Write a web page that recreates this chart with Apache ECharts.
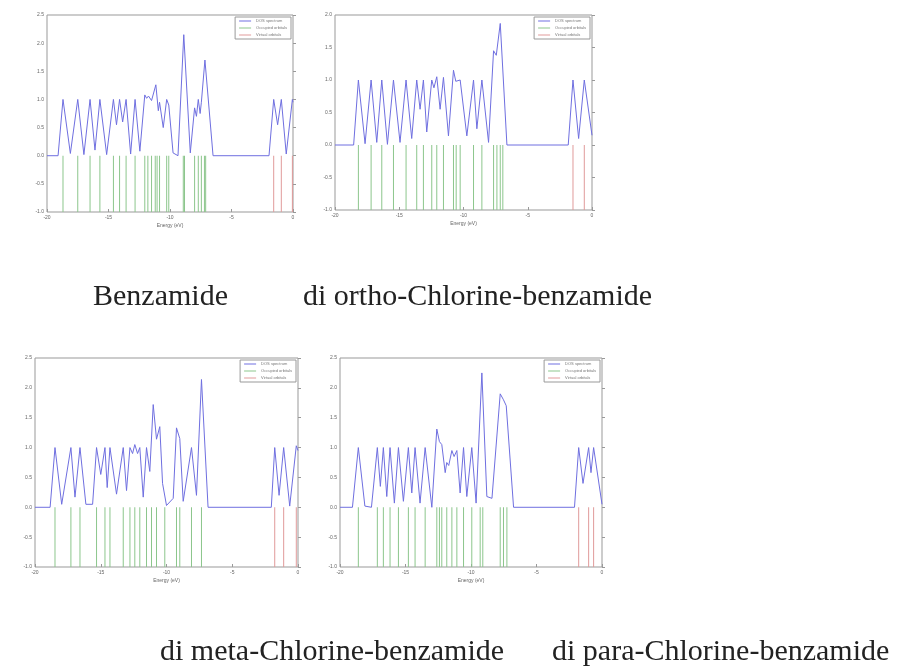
<!DOCTYPE html>
<html lang="en">
<head>
    <meta charset="UTF-8">
    <title>DOS spectra</title>
    <script type="text/javascript" src="https://cdn.jsdelivr.net/npm/echarts@6/dist/echarts.min.js"></script>
    <style>html, body { margin: 0; background: #fff; }</style>
</head>
<body>
    <div id="main" style="width: 901px;height:667px;"></div>
    <script type="text/javascript">

        // 轨道能量 (eV)
        var benzOcc = [-18.7, -17.5, -16.5, -15.7, -14.6, -14.1, -13.57, -12.84, -12.05, -11.8, -11.5, -11.2, -11.05, -10.85, -10.27, -10.1, -8.92, -8.82, -8.0, -7.7, -7.45, -7.2, -7.1];
        var benzVirt = [-1.57, -0.95, -0.05];
        var orthoOcc = [-18.18, -17.19, -16.36, -15.45, -14.47, -13.64, -13.12, -12.47, -12.08, -11.56, -10.78, -10.57, -10.26, -9.22, -8.57, -7.66, -7.40, -7.14, -6.94];
        var orthoVirt = [-1.48, -0.60];
        var metaOcc = [-18.48, -17.27, -16.58, -15.32, -14.68, -14.30, -13.29, -12.78, -12.41, -12.03, -11.52, -11.14, -10.76, -10.13, -9.24, -8.99, -8.10, -7.34];
        var metaVirt = [-1.77, -1.09, -0.13];
        var paraOcc = [-18.60, -17.15, -16.69, -16.18, -15.54, -14.78, -14.27, -13.50, -12.61, -12.41, -12.23, -11.85, -11.46, -11.08, -10.57, -9.94, -9.30, -9.10, -7.77, -7.52, -7.26];
        var paraVirt = [-1.78, -1.02, -0.64];

        // DOS 曲线 [能量, 强度]
        var benzDos = [[-20, 0], [-19.1, 0], [-18.7, 1.0], [-18.1, 0.04], [-17.5, 1.0], [-17.0, 0.02], [-16.5, 1.0], [-16.1, 0.1], [-15.7, 1.0], [-15.15, 0.02], [-14.6, 1.0], [-14.35, 0.55], [-14.1, 1.0], [-13.85, 0.6], [-13.57, 1.0], [-13.2, 0.03], [-12.84, 1.0], [-12.45, 0.08], [-12.05, 1.08], [-11.9, 1.02], [-11.75, 1.06], [-11.5, 0.98], [-11.15, 1.26], [-10.95, 0.8], [-10.85, 0.95], [-10.55, 0.5], [-10.27, 1.0], [-10.1, 0.9], [-9.75, 0.05], [-9.35, 0], [-8.88, 2.15], [-8.35, 0.05], [-8.0, 0.85], [-7.85, 0.7], [-7.7, 1.0], [-7.55, 0.75], [-7.45, 0.95], [-7.16, 1.7], [-6.5, 0], [-1.95, 0], [-1.57, 1.0], [-1.25, 0.55], [-0.95, 1.0], [-0.55, 0.03], [-0.05, 1.0], [0, 0.95]];
        var orthoDos = [[-20, 0], [-18.55, 0], [-18.18, 1.0], [-17.66, 0.02], [-17.19, 1.0], [-16.75, 0.04], [-16.36, 1.0], [-15.92, 0.01], [-15.45, 1.0], [-14.94, 0.04], [-14.47, 1.0], [-14.03, 0.1], [-13.64, 1.0], [-13.38, 0.55], [-13.12, 1.0], [-12.86, 0.2], [-12.47, 1.0], [-12.3, 0.88], [-12.08, 1.05], [-11.82, 0.55], [-11.56, 1.04], [-11.17, 0.14], [-10.78, 1.15], [-10.6, 0.98], [-10.26, 1.0], [-9.74, 0.14], [-9.22, 1.0], [-8.96, 0.25], [-8.57, 1.0], [-8.05, 0.04], [-7.66, 1.45], [-7.45, 1.38], [-7.14, 1.87], [-6.62, 0], [-1.85, 0], [-1.48, 1.0], [-1.04, 0.1], [-0.6, 1.0], [0, 0.15]];
        var metaDos = [[-20, 0], [-18.85, 0], [-18.48, 1.0], [-17.97, 0.05], [-17.27, 1.0], [-16.96, 0.17], [-16.58, 1.0], [-16.13, 0.05], [-15.62, 0.05], [-15.32, 1.0], [-15.0, 0.55], [-14.68, 1.0], [-14.51, 0.33], [-14.3, 1.0], [-13.8, 0.22], [-13.29, 1.0], [-13.04, 0.28], [-12.78, 1.0], [-12.58, 0.9], [-12.41, 1.05], [-12.2, 0.9], [-12.03, 1.0], [-11.77, 0.17], [-11.52, 1.0], [-11.27, 0.6], [-11.01, 1.72], [-10.76, 1.14], [-10.51, 1.35], [-10.3, 0.4], [-10.0, 0.03], [-9.49, 0.15], [-9.24, 1.33], [-8.99, 1.15], [-8.73, 0.1], [-8.1, 1.0], [-7.72, 0.2], [-7.34, 2.14], [-6.84, 0], [-2.03, 0], [-1.77, 1.0], [-1.44, 0.2], [-1.09, 1.0], [-0.63, 0.02], [-0.13, 1.03], [0, 0.95]];
        var paraDos = [[-20, 0], [-19.05, 0], [-18.6, 1.0], [-18.1, 0.02], [-17.6, 0], [-17.15, 1.0], [-16.92, 0.35], [-16.69, 1.0], [-16.43, 0.18], [-16.18, 1.0], [-15.85, 0.07], [-15.54, 1.0], [-15.16, 0.1], [-14.78, 1.0], [-14.52, 0.24], [-14.27, 1.0], [-13.89, 0.07], [-13.5, 1.0], [-12.99, 0], [-12.61, 1.31], [-12.41, 1.1], [-12.23, 1.05], [-11.97, 0.58], [-11.85, 0.75], [-11.7, 0.7], [-11.46, 0.95], [-11.29, 0.85], [-11.08, 0.95], [-10.83, 0.24], [-10.57, 1.0], [-10.32, 0.18], [-9.94, 1.0], [-9.61, 0.07], [-9.17, 2.25], [-8.79, 0.18], [-8.4, 0.15], [-7.77, 1.9], [-7.52, 1.8], [-7.31, 1.7], [-6.75, 0], [-2.1, 0], [-1.78, 1.0], [-1.45, 0.4], [-1.02, 1.0], [-0.84, 0.58], [-0.64, 1.0], [0, 0.05]];

        var seriesNames = ['DOS spectrum', 'Occupied orbitals', 'Virtual orbitals'];
        var captions = ['Benzamide', 'di ortho-Chlorine-benzamide', 'di meta-Chlorine-benzamide', 'di para-Chlorine-benzamide'];
        var xMin = -20, xMax = 0, xStep = 5;
        var yMin = -1, yStep = 0.5;
        var yMaxes = [2.5, 2.0, 2.5, 2.5];

        var panels = [
            {dos: benzDos, occ: benzOcc, virt: benzVirt, box: [47, 15, 246, 197], cap: [93, 282]},
            {dos: orthoDos, occ: orthoOcc, virt: orthoVirt, box: [335, 15, 257, 195], cap: [303, 282]},
            {dos: metaDos, occ: metaOcc, virt: metaVirt, box: [35, 358, 263, 209], cap: [160, 637]},
            {dos: paraDos, occ: paraOcc, virt: paraVirt, box: [340, 358, 262, 209], cap: [552, 637]}
        ];

        var grids = [], xAxes = [], yAxes = [], legends = [], titles = [], series = [];
        panels.forEach(function (p, i) {
            var b = p.box;
            grids.push({left: b[0], top: b[1], width: b[2], height: b[3], show: true, borderColor: '#999', borderWidth: 1});
            xAxes.push({
                gridIndex: i, type: 'value', min: xMin, max: xMax, interval: xStep,
                axisLine: {show: false, onZero: false},
                axisTick: {inside: true, length: 3, lineStyle: {color: '#999'}},
                axisLabel: {fontSize: 5, color: '#666', margin: 3},
                splitLine: {show: false},
                name: 'Energy (eV)', nameLocation: 'middle', nameGap: 11,
                nameTextStyle: {fontSize: 5, color: '#666'}
            });
            yAxes.push({
                gridIndex: i, type: 'value', min: yMin, max: yMaxes[i], interval: yStep,
                axisLine: {show: false},
                axisTick: {inside: true, length: 3, lineStyle: {color: '#999'}},
                axisLabel: {fontSize: 5, color: '#666', margin: 3, formatter: function (v) { return v.toFixed(1); }},
                splitLine: {show: false}
            });
            legends.push({
                data: seriesNames, orient: 'vertical', selectedMode: false,
                right: 901 - (b[0] + b[2]) + 2, top: b[1] + 2,
                icon: 'rect', itemWidth: 12, itemHeight: 1, itemGap: 3,
                padding: [2, 4], borderColor: '#999', borderWidth: 1, backgroundColor: '#fff',
                textStyle: {fontSize: 4, color: '#777'}
            });
            titles.push({
                text: captions[i], left: p.cap[0], top: p.cap[1], padding: 0,
                textStyle: {fontFamily: 'Liberation Serif', fontSize: 30, fontWeight: 'normal', color: '#222'}
            });
            series.push({
                name: seriesNames[0], type: 'line', xAxisIndex: i, yAxisIndex: i,
                data: p.dos, showSymbol: false, z: 3,
                lineStyle: {color: '#6f6fe0', width: 1}, itemStyle: {color: '#6f6fe0'}
            });
            series.push({
                name: seriesNames[1], type: 'bar', xAxisIndex: i, yAxisIndex: i,
                data: p.occ.map(function (e) { return [e, -1]; }),
                barWidth: 1, barGap: '-100%', itemStyle: {color: '#8cc68c'}
            });
            series.push({
                name: seriesNames[2], type: 'bar', xAxisIndex: i, yAxisIndex: i,
                data: p.virt.map(function (e) { return [e, -1]; }),
                barWidth: 1, barGap: '-100%', itemStyle: {color: '#e09a9a'}
            });
        });

        var myChart = echarts.init(document.getElementById('main'));
        myChart.setOption({
            animation: false,
            backgroundColor: '#fff',
            title: titles,
            legend: legends,
            grid: grids,
            xAxis: xAxes,
            yAxis: yAxes,
            series: series
        });

    </script>
</body>
</html>
